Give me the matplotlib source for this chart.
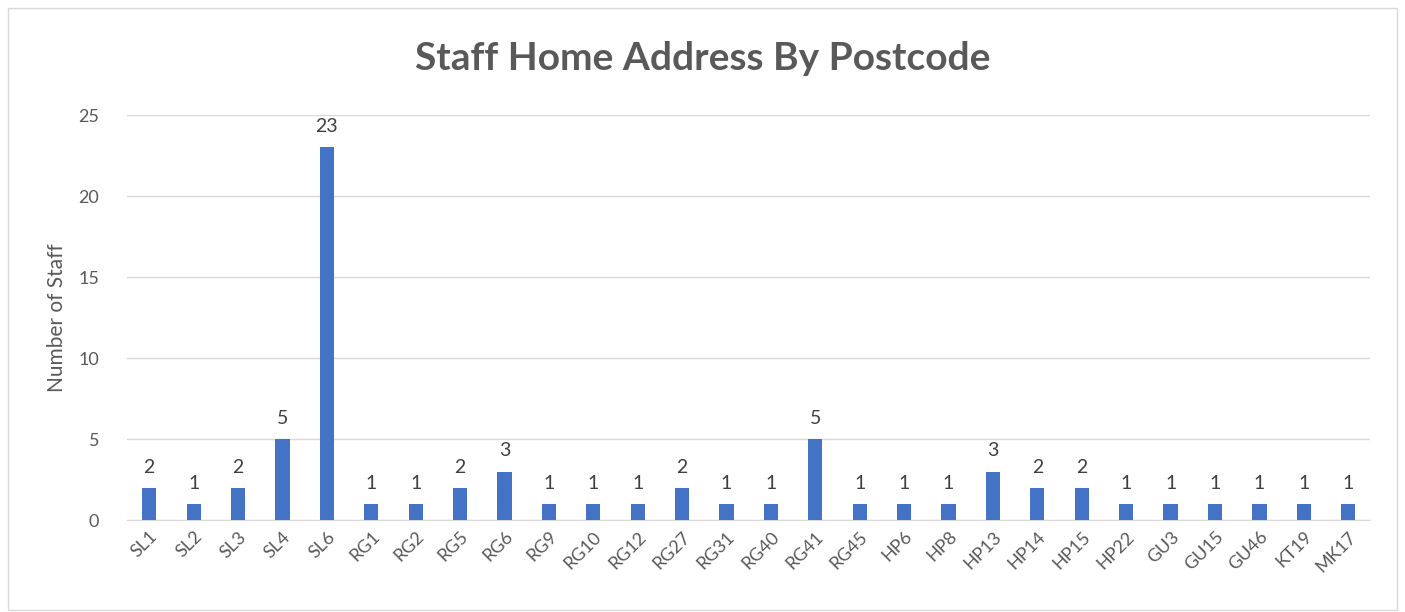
import matplotlib.pyplot as plt
from matplotlib.patches import Rectangle

# postcode areas and staff counts
postcodes = ["SL1", "SL2", "SL3", "SL4", "SL6", "RG1", "RG2", "RG5", "RG6", "RG9",
             "RG10", "RG12", "RG27", "RG31", "RG40", "RG41", "RG45", "HP6", "HP8",
             "HP13", "HP14", "HP15", "HP22", "GU3", "GU15", "GU46", "KT19", "MK17"]
staff = [2, 1, 2, 5, 23, 1, 1, 2, 3, 1,
         1, 1, 2, 1, 1, 5, 1, 1, 1,
         3, 2, 2, 1, 1, 1, 1, 1, 1]
y_ticks = [0, 5, 10, 15, 20, 25]

plt.rcParams['font.family'] = ['Lato', 'DejaVu Sans']

fig = plt.figure(figsize=(14.05, 6.12), dpi=100)
ax = fig.add_axes([0.0904, 0.150, 0.885, 0.662])

x = range(len(postcodes))
bars = ax.bar(x, staff, width=0.32, color="#4472C4", zorder=3)
for xi, v in zip(x, staff):
    ax.text(xi, v + 0.75, str(v), ha="center", va="bottom", fontsize=14, color="#404040")

ax.set_xlim(-0.5, len(postcodes) - 0.5)
ax.set_ylim(0, 25)
ax.set_yticks(y_ticks)
ax.set_xticks(list(x))
ax.set_xticklabels(postcodes, rotation=45, ha="right", rotation_mode="anchor",
                   fontsize=13, color="#595959")
ax.tick_params(axis="y", labelsize=13, labelcolor="#595959", length=0, pad=20)
ax.tick_params(axis="x", length=0, pad=6)
ax.grid(axis="y", color="#d9d9d9", linewidth=1, zorder=0)
for s in ["top", "right", "left"]:
    ax.spines[s].set_visible(False)
ax.spines["bottom"].set_color("#d9d9d9")
ax.set_ylabel("Number of Staff", fontsize=15, color="#595959", labelpad=8)

fig.text(0.5, 0.905, "Staff Home Address By Postcode", ha="center", va="center",
         fontsize=28, fontweight="bold", color="#595959")

fig.patches.append(Rectangle((0.006, 0.003), 0.988, 0.984, transform=fig.transFigure,
                             fill=False, edgecolor="#d9d9d9", linewidth=1))

fig.savefig("out.png", dpi=100)
